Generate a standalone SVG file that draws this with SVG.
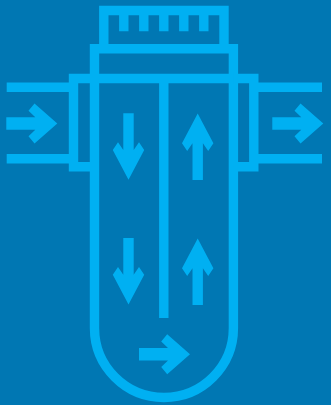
<svg xmlns="http://www.w3.org/2000/svg" width="331" height="405" viewBox="0 0 331 405">
<defs>
<style>
.l{fill:none;stroke:#00B0F2;stroke-width:9.4;stroke-miterlimit:10}
.a{fill:#00B0F2}
</style>
<polygon id="r" class="a" points="0,-6.2 29,-6.2 22.2,-12.7 28.2,-20 51,0 28.2,20 22.2,12.7 29,6.2 0,6.2"/>
<polygon id="d" class="a" points="-5.2,0 5.2,0 5.2,36.7 10.5,29 15.7,36.7 0,66.4 -15.7,36.7 -10.5,29 -5.2,36.7"/>
</defs>
<rect width="331" height="405" fill="#0077B3"/>
<g id="filter-head">
<path class="l" d="M103.8 48.8V10.5H224V48.8"/>
<path class="l" d="M123.8 10.5V31.3M143.8 10.5V31.3M163.8 10.5V31.3M183.8 10.5V31.3M203.8 10.5V31.3"/>
</g>
<g id="filter-body">
<path class="l" d="M94.5 328V48.8H233.4V328A69.45 69.45 0 0 1 94.5 328Z"/>
<path class="l" d="M94.5 78.5H233.4M163.8 78.5V318"/>
</g>
<g id="flange-left"><path class="l" d="M94.5 78.5H73.5V166.7H94.5"/></g>
<g id="flange-right"><path class="l" d="M233.4 78.5H253.8V166.7H233.4"/></g>
<g id="connectors">
<path class="l" d="M6.7 87.3H69M6.7 158.8H69M258 87.3H322M258 158.8H322"/>
<use href="#r" x="6.3" y="123.5"/>
<use href="#r" x="272.3" y="123.5"/>
<use href="#d" x="128.5" y="113.3"/>
<use href="#d" transform="translate(197.7 180) rotate(180)"/>
<use href="#d" x="128.5" y="238"/>
<use href="#d" transform="translate(197.7 305) rotate(180)"/>
<use href="#r" x="139" y="354.3"/>
</g>
</svg>
